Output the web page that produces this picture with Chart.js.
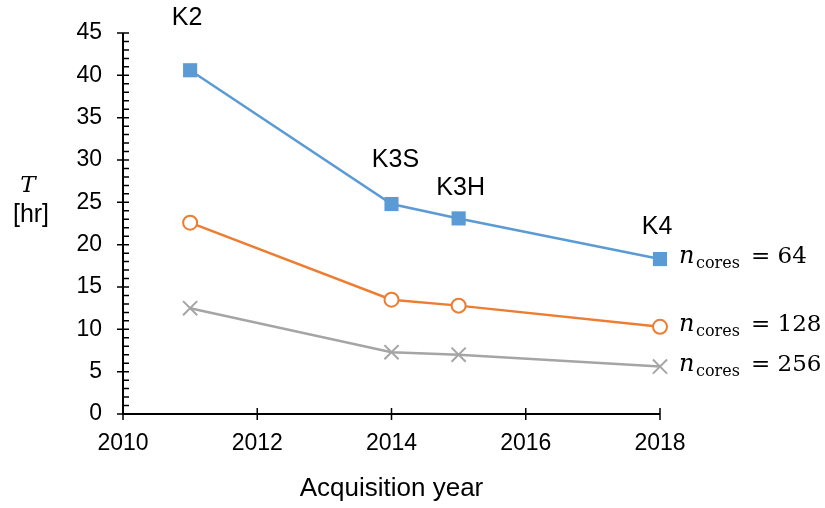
<!DOCTYPE html>
<html>
<head>
<meta charset="utf-8">
<script src="https://cdn.jsdelivr.net/npm/chart.js@4"></script>
<style>
  html, body { margin: 0; padding: 0; background: #fff; }
  #wrap { width: 825px; height: 508px; }
</style>
</head>
<body>
<div id="wrap"><canvas id="chart" width="825" height="508"></canvas></div>
<script>
const years = [2011, 2014, 2015, 2018];
const machines = ["K2", "K3S", "K3H", "K4"];
const cores64 = [40.6, 24.8, 23.1, 18.3];
const cores128 = [22.6, 13.5, 12.8, 10.3];
const cores256 = [12.5, 7.3, 7.0, 5.6];
const coreCounts = ["64", "128", "256"];
const xTicks = [2010, 2012, 2014, 2016, 2018];
const yTicks = [0, 5, 10, 15, 20, 25, 30, 35, 40, 45];

const SANS = "'Liberation Sans', Arial, sans-serif";
const SERIF = "'DejaVu Serif', 'Liberation Serif', serif";

// axes with crossing major ticks and inside minor ticks, plus annotations
const decor = {
  id: "decor",
  afterDraw(chart) {
    const ctx = chart.ctx;
    const xs = chart.scales.x, ys = chart.scales.y;
    const area = chart.chartArea;
    ctx.save();
    ctx.strokeStyle = "#000";
    ctx.lineWidth = 2;
    ctx.beginPath();
    ctx.moveTo(area.left, area.top);
    ctx.lineTo(area.left, area.bottom);
    ctx.lineTo(area.right, area.bottom);
    ctx.stroke();
    ctx.lineWidth = 1.5;
    ctx.beginPath();
    for (let v = 0; v <= 45; v++) {
      const y = ys.getPixelForValue(v);
      if (v % 5 === 0) {
        ctx.moveTo(area.left - 6, y); ctx.lineTo(area.left + 6, y);
      } else {
        ctx.moveTo(area.left, y); ctx.lineTo(area.left + 6, y);
      }
    }
    xTicks.forEach(v => {
      const x = xs.getPixelForValue(v);
      ctx.moveTo(x, area.bottom - 6); ctx.lineTo(x, area.bottom + 6);
    });
    ctx.stroke();

    // machine labels above the 64-core points
    const m0 = chart.getDatasetMeta(0).data;
    ctx.fillStyle = "#000";
    ctx.font = "25px " + SANS;
    ctx.textAlign = "center";
    ctx.textBaseline = "alphabetic";
    const offs = [[-3, -45], [4, -37], [2, -23], [-3, -25]];
    machines.forEach((m, i) => {
      ctx.fillText(m, m0[i].x + offs[i][0], m0[i].y + offs[i][1]);
    });

    // n_cores labels at line ends
    ctx.textAlign = "left";
    [0, 1, 2].forEach(d => {
      const pts = chart.getDatasetMeta(d).data;
      const p = pts[pts.length - 1];
      const x0 = p.x + 19;
      const base = p.y + 4;
      ctx.font = "italic 24px " + SERIF;
      ctx.fillText("n", x0, base);
      ctx.font = "16px " + SERIF;
      ctx.fillText("cores", x0 + 17, base + 5);
      ctx.font = "23px " + SERIF;
      ctx.fillText("= " + coreCounts[d], x0 + 72, base);
    });

    // y axis title
    ctx.textAlign = "center";
    ctx.font = "italic 23px " + SERIF;
    ctx.fillText("T", 28, 192);
    ctx.font = "25px " + SANS;
    ctx.fillText("[hr]", 31, 222);
    ctx.restore();
  }
};

new Chart(document.getElementById("chart"), {
  type: "line",
  data: {
    datasets: [
      {
        label: "64",
        data: years.map((y, i) => ({ x: y, y: cores64[i] })),
        borderColor: "#5B9BD5",
        backgroundColor: "#5B9BD5",
        borderWidth: 2.5,
        pointStyle: "rect",
        pointRadius: 10,
        pointBorderWidth: 0,
        clip: false
      },
      {
        label: "128",
        data: years.map((y, i) => ({ x: y, y: cores128[i] })),
        borderColor: "#ED7D31",
        backgroundColor: "#ffffff",
        borderWidth: 2.5,
        pointStyle: "circle",
        pointRadius: 7,
        pointBorderWidth: 2,
        clip: false
      },
      {
        label: "256",
        data: years.map((y, i) => ({ x: y, y: cores256[i] })),
        borderColor: "#A5A5A5",
        backgroundColor: "#A5A5A5",
        borderWidth: 2.5,
        pointStyle: "crossRot",
        pointRadius: 10,
        pointBorderWidth: 2,
        clip: false
      }
    ]
  },
  options: {
    responsive: false,
    animation: false,
    layout: { padding: { top: 33, right: 165, left: 0, bottom: 0 } },
    plugins: { legend: { display: false }, tooltip: { enabled: false } },
    scales: {
      x: {
        type: "linear",
        min: 2010,
        max: 2018,
        afterBuildTicks: s => { s.ticks = xTicks.map(v => ({ value: v })); },
        afterFit: s => { s.height = 94; },
        grid: { display: false },
        border: { display: false },
        ticks: {
          color: "#000",
          font: { family: SANS, size: 23 },
          padding: 8,
          maxRotation: 0,
          callback: v => String(v)
        },
        title: {
          display: true,
          text: "Acquisition year",
          color: "#000",
          font: { family: SANS, size: 26 },
          padding: { top: 13 }
        }
      },
      y: {
        min: 0,
        max: 45,
        afterBuildTicks: s => { s.ticks = yTicks.map(v => ({ value: v })); },
        afterFit: s => { s.width = 123; },
        grid: { display: false },
        border: { display: false },
        ticks: {
          color: "#000",
          font: { family: SANS, size: 23 },
          padding: 13
        }
      }
    }
  },
  plugins: [decor]
});
</script>
</body>
</html>
